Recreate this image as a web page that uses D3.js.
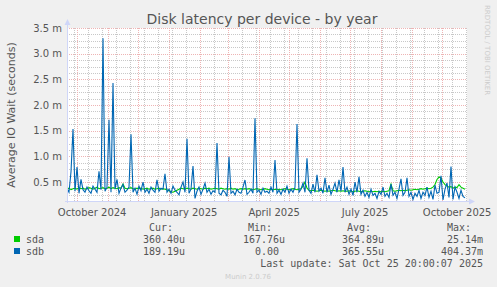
<!DOCTYPE html>
<html>
<head>
<meta charset="utf-8">
<script src="https://cdn.jsdelivr.net/npm/d3@7"></script>
<style>
  html, body { margin: 0; padding: 0; background: #f0f0f0; }
  svg { display: block; }
  text { font-family: "DejaVu Sans", sans-serif; }
  .mono { font-family: "DejaVu Sans Mono", monospace; white-space: pre; }
</style>
</head>
<body>
<svg id="chart" width="497" height="287"></svg>
<script>
// ---- data (milliseconds), one value every 2 days starting at startTime ----
const title = "Disk latency per device - by year";
const yAxisTitle = "Average IO Wait (seconds)";
const startTime = "2024-09-20T20:00:00";
const endTime = "2025-10-25T20:00:00";
const stepDays = 2;
const yDomain = [0.13, 3.5];
const yTicks = [0.5, 1.0, 1.5, 2.0, 2.5, 3.0, 3.5];
const xLabelMonths = ["2024-10-16", "2025-01-16", "2025-04-16", "2025-07-16", "2025-10-16"];
const xLabels = ["October 2024", "January 2025", "April 2025", "July 2025", "October 2025"];

const seriesNames = ["sda", "sdb"];
const seriesColors = ["#00cc00", "#0066b3"];

const sdaValues = [
  0.36,0.38,0.35,0.37,0.38,0.36,0.39,0.37,0.38,0.36,
  0.37,0.39,0.38,0.36,0.38,0.40,0.37,0.38,0.39,0.37,
  0.38,0.40,0.37,0.39,0.38,0.37,0.39,0.38,0.46,0.38,
  0.37,0.38,0.39,0.37,0.36,0.38,0.37,0.38,0.36,0.37,
  0.38,0.36,0.37,0.38,0.36,0.37,0.38,0.36,0.37,0.36,
  0.35,0.33,0.31,0.30,0.32,0.34,0.36,0.38,0.37,0.36,
  0.38,0.37,0.36,0.38,0.37,0.36,0.38,0.37,0.36,0.38,
  0.37,0.38,0.36,0.37,0.38,0.37,0.36,0.38,0.37,0.36,
  0.37,0.36,0.38,0.36,0.37,0.35,0.36,0.37,0.36,0.37,
  0.36,0.37,0.36,0.35,0.36,0.37,0.36,0.35,0.36,0.37,
  0.36,0.35,0.36,0.35,0.36,0.35,0.36,0.35,0.36,0.37,
  0.36,0.35,0.36,0.37,0.36,0.35,0.36,0.37,0.42,0.50,
  0.38,0.34,0.33,0.34,0.33,0.32,0.33,0.34,0.33,0.32,
  0.33,0.32,0.33,0.34,0.33,0.32,0.33,0.32,0.33,0.32,
  0.32,0.33,0.32,0.31,0.32,0.33,0.32,0.31,0.32,0.33,
  0.32,0.31,0.32,0.31,0.32,0.31,0.32,0.31,0.32,0.31,
  0.32,0.33,0.46,0.33,0.32,0.33,0.34,0.33,0.34,0.33,
  0.34,0.35,0.34,0.35,0.36,0.35,0.36,0.37,0.36,0.37,
  0.38,0.37,0.38,0.40,0.45,0.55,0.60,0.58,0.50,0.45,
  0.42,0.40,0.41,0.38,0.40,0.39,0.45,0.40,0.38,0.36
];

const sdbValues = [
  0.38,0.30,0.70,1.53,0.32,0.79,0.28,0.55,0.35,0.30,
  0.40,0.33,0.28,0.42,0.36,0.30,0.71,0.35,3.30,0.32,
  0.40,1.71,0.30,2.43,0.36,0.55,0.28,0.38,0.45,0.30,
  0.34,0.40,1.43,0.30,0.38,0.26,0.42,0.33,0.50,0.30,
  0.36,0.28,0.40,0.34,0.30,0.54,0.32,0.38,0.36,0.66,
  0.30,0.36,0.28,0.42,0.34,0.30,0.25,0.40,0.50,0.30,
  1.34,0.28,0.36,0.81,0.18,0.32,0.40,0.26,0.36,0.48,
  0.30,0.36,0.26,0.33,0.30,1.26,0.28,0.25,0.34,0.30,
  0.22,0.99,0.28,0.32,0.25,0.36,0.30,0.28,0.40,0.54,
  0.26,0.30,0.36,0.28,1.74,0.30,0.34,0.26,0.38,0.30,
  0.32,0.28,0.40,0.30,0.93,0.28,0.34,0.26,0.36,0.30,
  0.42,0.28,0.36,0.30,0.40,1.63,0.30,0.36,0.48,0.30,
  0.96,0.34,0.28,0.46,0.30,0.64,0.32,0.38,0.28,0.58,
  0.30,0.44,0.26,0.36,0.48,0.30,0.54,0.32,0.79,0.30,
  0.40,0.26,0.36,0.24,0.50,0.30,0.60,0.26,0.34,0.22,
  0.30,0.20,0.36,0.24,0.28,0.18,0.32,0.26,0.40,0.22,
  0.28,0.20,0.46,0.24,0.30,0.18,0.36,0.56,0.24,0.30,
  0.58,0.22,0.30,0.16,0.28,0.22,0.34,0.18,0.30,0.24,
  0.40,0.20,0.32,0.16,0.44,0.28,0.30,0.62,0.15,0.36,
  0.48,0.20,0.80,0.16,0.40,0.30,0.18,0.34,0.22,0.19
];

const legendHeaders = ["Cur:", "Min:", "Avg:", "Max:"];
const legendRows = [
  ["360.40u", "167.76u", "364.89u", " 25.14m"],
  ["189.19u", "  0.00 ", "365.55u", "404.37m"]
];
const lastUpdate = "Last update: Sat Oct 25 20:00:07 2025";
const sideText = "RRDTOOL / TOBI OETIKER";
const footer = "Munin 2.0.76";

// ---- layout ----
const plot = { left: 67, right: 467, top: 28, bottom: 201 };
const svg = d3.select("#chart");
const parse = d3.isoParse;
const t0 = parse(startTime), t1 = parse(endTime);

const x = d3.scaleTime().domain([t0, t1]).range([plot.left, plot.right]);
const y = d3.scaleLinear().domain(yDomain).range([plot.bottom, plot.top]);

const dateAt = i => d3.timeDay.offset(t0, i * stepDays);

// plot background
svg.append("rect").attr("x", plot.left).attr("y", plot.top)
  .attr("width", plot.right - plot.left).attr("height", plot.bottom - plot.top)
  .attr("fill", "#ffffff");

const grid = svg.append("g").attr("shape-rendering", "crispEdges");
const minorColor = "#c8c8c8";
const majorColor = "#eeb4b4";

// minor horizontal grid every 0.125
const minorY = d3.range(0.25, 3.5001, 0.125).filter(v => Math.abs(v / 0.5 - Math.round(v / 0.5)) > 1e-6 && v >= yDomain[0]);
grid.selectAll(".hmin").data(minorY).join("line")
  .attr("x1", plot.left).attr("x2", plot.right)
  .attr("y1", d => Math.round(y(d)) + 0.5).attr("y2", d => Math.round(y(d)) + 0.5)
  .attr("stroke", minorColor).attr("stroke-dasharray", "1,1");

// minor vertical grid (every 14 days)
const minorX = d3.range(0, 60).map(k => d3.timeDay.offset(t0, 7 + 14 * k)).filter(d => d < t1);
grid.selectAll(".vmin").data(minorX).join("line")
  .attr("y1", plot.top).attr("y2", plot.bottom)
  .attr("x1", d => Math.round(x(d)) + 0.5).attr("x2", d => Math.round(x(d)) + 0.5)
  .attr("stroke", minorColor).attr("stroke-dasharray", "1,1");

// major horizontal grid
grid.selectAll(".hmaj").data(yTicks).join("line")
  .attr("x1", plot.left).attr("x2", plot.right)
  .attr("y1", d => Math.round(y(d)) + 0.5).attr("y2", d => Math.round(y(d)) + 0.5)
  .attr("stroke", majorColor).attr("stroke-dasharray", "1,1");

// major vertical grid: month starts
const months = d3.timeMonth.range(d3.timeMonth.ceil(t0), t1);
grid.selectAll(".vmaj").data(months).join("line")
  .attr("y1", plot.top).attr("y2", plot.bottom)
  .attr("x1", d => Math.round(x(d)) + 0.5).attr("x2", d => Math.round(x(d)) + 0.5)
  .attr("stroke", majorColor).attr("stroke-dasharray", "1,1");

// lines
const line = d3.line().x((d, i) => x(dateAt(i))).y(d => y(d));
svg.append("clipPath").attr("id", "clip").append("rect")
  .attr("x", plot.left).attr("y", plot.top - 10)
  .attr("width", plot.right - plot.left).attr("height", plot.bottom - plot.top + 10);

svg.append("path").datum(sdaValues).attr("d", line)
  .attr("fill", "none").attr("stroke", seriesColors[0]).attr("stroke-width", 1.1)
  .attr("clip-path", "url(#clip)");
svg.append("path").datum(sdbValues).attr("d", line)
  .attr("fill", "none").attr("stroke", seriesColors[1]).attr("stroke-width", 1.1)
  .attr("clip-path", "url(#clip)");

// axes lines + arrows
const axisColor = "#cfd6f8";
svg.append("line").attr("x1", plot.left + 0.5).attr("x2", plot.left + 0.5)
  .attr("y1", plot.top - 4).attr("y2", plot.bottom + 2)
  .attr("stroke", axisColor).attr("shape-rendering", "crispEdges");
svg.append("line").attr("x1", plot.left - 2).attr("x2", plot.right + 3)
  .attr("y1", plot.bottom + 0.5).attr("y2", plot.bottom + 0.5)
  .attr("stroke", axisColor).attr("shape-rendering", "crispEdges");
svg.append("path").attr("d", `M${plot.left - 2.5},${plot.top - 3} L${plot.left + 3.5},${plot.top - 3} L${plot.left + 0.5},${plot.top - 9} Z`)
  .attr("fill", axisColor);
svg.append("path").attr("d", `M${plot.right + 2},${plot.bottom - 2.5} L${plot.right + 2},${plot.bottom + 3.5} L${plot.right + 8},${plot.bottom + 0.5} Z`)
  .attr("fill", axisColor);

const textColor = "#555555";

// y tick labels
svg.selectAll(".ylab").data(yTicks).join("text")
  .attr("x", 62).attr("y", d => y(d) + 3.5)
  .attr("text-anchor", "end").attr("font-size", 10).attr("fill", textColor)
  .text(d => d.toFixed(1) + " m");

// x labels
svg.selectAll(".xlab").data(xLabelMonths).join("text")
  .attr("x", d => x(parse(d))).attr("y", 215.5)
  .attr("text-anchor", "middle").attr("font-size", 10).attr("fill", textColor)
  .text((d, i) => xLabels[i]);

// title
svg.append("text").attr("x", 262).attr("y", 23.5)
  .attr("text-anchor", "middle").attr("font-size", 14).attr("fill", textColor)
  .text(title);

// y axis title
svg.append("text").attr("transform", "translate(15,115) rotate(-90)")
  .attr("text-anchor", "middle").attr("font-size", 11).attr("fill", textColor)
  .text(yAxisTitle);

// side text
svg.append("text").attr("transform", "translate(485,5) rotate(90)")
  .attr("text-anchor", "start").attr("font-size", 7).attr("fill", "#cccccc")
  .text(sideText);

// legend
const colX = [143, 243, 342, 441];
const headX = [149, 248, 347, 447];
const rowY = [243, 255];
svg.selectAll(".lh").data(legendHeaders).join("text")
  .attr("class", "mono").attr("x", (d, i) => headX[i]).attr("y", 231)
  .attr("font-size", 10).attr("fill", textColor).text(d => d);

seriesNames.forEach((name, r) => {
  svg.append("rect").attr("x", 14).attr("y", rowY[r] - 7).attr("width", 6).attr("height", 6)
    .attr("fill", seriesColors[r]);
  svg.append("text").attr("class", "mono").attr("x", 26).attr("y", rowY[r])
    .attr("font-size", 10).attr("fill", textColor).text(name);
  svg.selectAll(".lv" + r).data(legendRows[r]).join("text")
    .attr("class", "mono").attr("x", (d, i) => colX[i]).attr("y", rowY[r])
    .attr("font-size", 10).attr("fill", textColor).text(d => d);
});

svg.append("text").attr("class", "mono").attr("x", 483).attr("y", 267)
  .attr("text-anchor", "end").attr("font-size", 10).attr("fill", textColor).text(lastUpdate);

svg.append("text").attr("x", 248).attr("y", 279)
  .attr("text-anchor", "middle").attr("font-size", 7).attr("fill", "#cccccc").text(footer);
</script>
</body>
</html>
